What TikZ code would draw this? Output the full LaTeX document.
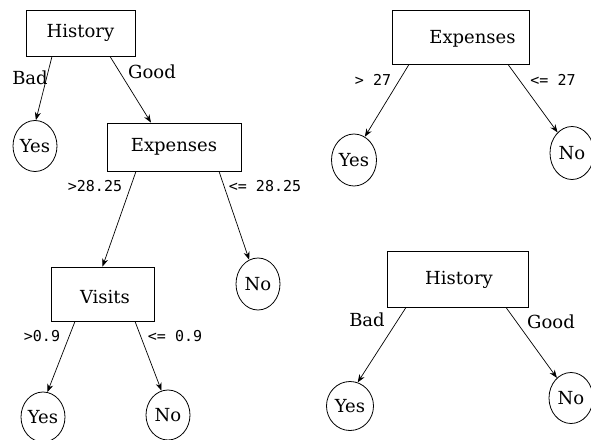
\documentclass[tikz,border=0pt]{standalone}
\usepackage{fontspec}
\usetikzlibrary{shapes.geometric,arrows.meta}
\newfontfamily\nodefont{DejaVu Serif}
\newfontfamily\numfont{DejaVu Sans Mono}
\tikzset{
  box/.style={draw, line width=0.8pt, rectangle, inner sep=0pt, font=\nodefont\fontsize{18}{21}\selectfont},
  leaf/.style={draw, line width=0.8pt, ellipse, inner sep=0pt, font=\nodefont\fontsize{18}{21}\selectfont},
  word/.style={inner sep=0pt, font=\nodefont\fontsize{18}{21}\selectfont},
  num/.style={inner sep=0pt, font=\numfont\fontsize{15}{18}\selectfont},
  edge/.style={line width=0.7pt, -{Stealth[length=8pt,width=6pt]}}
}
\begin{document}
\begin{tikzpicture}[x=1pt,y=-1pt]
\useasboundingbox (0,0) rectangle (591,439);
\clip (0,0) rectangle (591,439);
% left tree
\node[box, minimum width=109pt, minimum height=46pt] (h1) at (80.5,33) {History};
\node[leaf, minimum width=44pt, minimum height=51pt] (y1) at (35,146) {Yes};
\node[box, minimum width=134pt, minimum height=48pt] (e1) at (174,147) {Expenses};
\node[leaf, minimum width=44pt, minimum height=52pt] (n1) at (258,284) {No};
\node[box, minimum width=103pt, minimum height=54pt] (v1) at (102.5,294) {};
\node[word] (v1t) at (105,297) {Visits};
\node[leaf, minimum width=44pt, minimum height=50pt] (y2) at (43,417) {Yes};
\node[leaf, minimum width=44pt, minimum height=50pt] (n2) at (168,415) {No};
\draw[edge] ([xshift=-28.5pt]h1.south) -- (y1.88);
\draw[edge] ([xshift=29.5pt]h1.south) -- ([xshift=-23pt]e1.north);
\draw[edge] ([xshift=-38pt]e1.south) -- (v1.north);
\draw[edge] ([xshift=45pt]e1.south) -- (n1.110);
\draw[edge] ([xshift=-27.5pt]v1.south) -- (y2.80);
\draw[edge] ([xshift=32.5pt]v1.south) -- (n2.105);
\node[word] (l1) at (30,78) {Bad};
\node[word] (l2) at (152,72) {Good};
\node[num] (l3) at (95,186) {>28.25};
\node[num] (l4) at (265,186) {<= 28.25};
\node[num] (l5) at (42,336) {>0.9};
\node[num] (l6) at (175,336) {<= 0.9};
% right top tree
\node[box, minimum width=137pt, minimum height=54pt] (e2) at (460.5,37) {};
\node[word] (e2t) at (472.5,39) {Expenses};
\node[leaf, minimum width=45pt, minimum height=52pt] (y3) at (354,160) {Yes};
\node[leaf, minimum width=44pt, minimum height=53pt] (n3) at (572,153) {No};
\draw[edge] ([xshift=-51.5pt]e2.south) -- (y3.65);
\draw[edge] ([xshift=47.5pt]e2.south) -- (n3.125);
\node[num] (l7) at (373,80) {> 27};
\node[num] (l8) at (553,80) {<= 27};
% right bottom tree
\node[box, minimum width=141pt, minimum height=56pt] (h2) at (457.5,279) {};
\node[word] (h2t) at (459,280) {History};
\node[leaf, minimum width=47pt, minimum height=49pt] (y4) at (350,406) {Yes};
\node[leaf, minimum width=44pt, minimum height=51pt] (n4) at (571,398) {No};
\draw[edge] ([xshift=-51.5pt]h2.south) -- (y4.72);
\draw[edge] ([xshift=48.5pt]h2.south) -- (n4.125);
\node[word] (l9) at (367,320) {Bad};
\node[word] (l10) at (551,322) {Good};
\end{tikzpicture}
\end{document}
